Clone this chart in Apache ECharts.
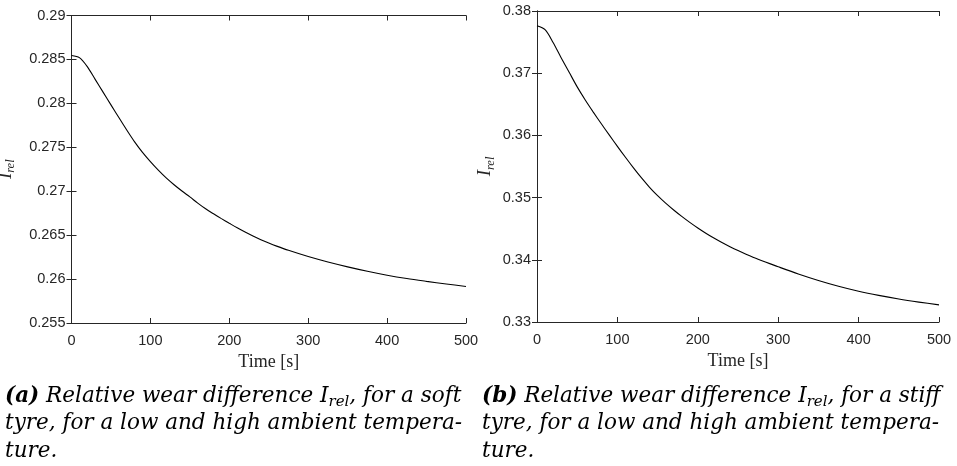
<!DOCTYPE html>
<html>
<head>
<meta charset="utf-8">
<script src="https://cdn.jsdelivr.net/npm/echarts@6/dist/echarts.min.js"></script>
<style>
  html, body { margin: 0; padding: 0; background: #fff; }
  #chart { width: 957px; height: 466px; }
</style>
</head>
<body>
<div id="chart"></div>
<script>
// ---- Data ----
const timeSoft = [0, 10, 20, 30, 40, 50, 60, 70, 80, 90, 100, 110, 120, 130, 140, 150, 160, 170, 180, 190, 200, 210, 220, 230, 240, 250, 260, 275, 300, 325, 350, 375, 400, 425, 450, 475, 500];
const irelSoft = [0.28545, 0.28520, 0.28418, 0.28273, 0.28128, 0.27983, 0.27839, 0.27697, 0.27562, 0.27442, 0.27337, 0.27240, 0.27152, 0.27074, 0.27002, 0.26935, 0.26865, 0.26800, 0.26743, 0.26688, 0.26635, 0.26583, 0.26535, 0.26490, 0.26448, 0.26410, 0.26375, 0.26327, 0.26256, 0.26194, 0.26139, 0.26089, 0.26044, 0.26006, 0.25974, 0.25944, 0.25916];

const timeStiff = [0, 10, 20, 30, 40, 50, 60, 70, 80, 90, 100, 110, 120, 130, 140, 150, 160, 170, 180, 190, 200, 210, 220, 230, 240, 250, 260, 275, 300, 325, 350, 375, 400, 425, 450, 475, 500];
const irelStiff = [0.37763, 0.37700, 0.37495, 0.37250, 0.37015, 0.36780, 0.36570, 0.36375, 0.36187, 0.36004, 0.35824, 0.35648, 0.35478, 0.35316, 0.35166, 0.35031, 0.34911, 0.34801, 0.34698, 0.34602, 0.34512, 0.34428, 0.34350, 0.34278, 0.34211, 0.34148, 0.34089, 0.34008, 0.33888, 0.33772, 0.33668, 0.33575, 0.33495, 0.33428, 0.33370, 0.33320, 0.33275];

const xTicks = { min: 0, max: 500, interval: 100 };
const ySoftTicks = { min: 0.255, max: 0.29, interval: 0.005 };
const yStiffTicks = { min: 0.33, max: 0.38, interval: 0.01 };

const xLabel = 'Time [s]';
const captionA = [
  '{b|(a)}{t| Relative wear difference }{i|I}{s|rel}{t|, for a soft}',
  '{t|tyre, for a low and high ambient tempera-}',
  '{t|ture.}'
];
const captionB = [
  '{b|(b)}{t| Relative wear difference }{i|I}{s|rel}{t|, for a stiff}',
  '{t|tyre, for a low and high ambient tempera-}',
  '{t|ture.}'
];

// ---- Styling ----
const axisColor = '#262626';
const tickFont = { fontFamily: 'Liberation Sans', fontSize: 14.5, color: axisColor };
const capFont = 'DejaVu Serif';
const capSize = 21.5;

function zip(xs, ys) { return xs.map((x, i) => [x, ys[i]]); }

function xAxes(gridIndex, nameGap) {
  return [
    {
      type: 'value', gridIndex, position: 'bottom', ...xTicks,
      name: xLabel, nameLocation: 'middle', nameGap,
      nameTextStyle: { fontFamily: 'Liberation Serif', fontSize: 18, color: axisColor },
      axisLine: { lineStyle: { color: axisColor, width: 1 } },
      axisTick: { inside: true, length: 5, lineStyle: { color: axisColor } },
      axisLabel: { ...tickFont, margin: 10 },
      splitLine: { show: false }
    },
    {
      type: 'value', gridIndex, position: 'top', ...xTicks,
      axisLine: { lineStyle: { color: axisColor, width: 1 } },
      axisTick: { inside: true, length: 5, lineStyle: { color: axisColor } },
      axisLabel: { show: false },
      splitLine: { show: false }
    }
  ];
}

function yAxes(gridIndex, ticks, nameGap) {
  return [
    {
      type: 'value', gridIndex, position: 'left', ...ticks,
      name: '{i|I}{s|rel}', nameLocation: 'middle', nameGap, nameRotate: 90,
      nameTextStyle: {
        rich: {
          i: { fontFamily: 'Liberation Serif', fontStyle: 'italic', fontSize: 19, color: axisColor, lineHeight: 24, verticalAlign: 'middle' },
          s: { fontFamily: 'Liberation Serif', fontStyle: 'italic', fontSize: 12.5, color: axisColor, lineHeight: 24, verticalAlign: 'bottom' }
        }
      },
      axisLine: { lineStyle: { color: axisColor, width: 1 } },
      axisTick: { inside: true, length: 5, lineStyle: { color: axisColor } },
      axisLabel: { ...tickFont, margin: 6, formatter: v => String(+v.toFixed(3)) },
      splitLine: { show: false }
    },
    {
      type: 'value', gridIndex, position: 'right', ...ticks,
      axisLine: { lineStyle: { color: axisColor, width: 1 } },
      axisTick: { inside: true, length: 5, lineStyle: { color: axisColor } },
      axisLabel: { show: false },
      splitLine: { show: false }
    }
  ];
}

const capRich = {
  t: { fontFamily: capFont, fontStyle: 'italic', fontSize: capSize, color: '#000', lineHeight: 28, verticalAlign: 'middle' },
  b: { fontFamily: capFont, fontStyle: 'italic', fontWeight: 'bold', fontSize: capSize, color: '#000', lineHeight: 28, verticalAlign: 'middle' },
  i: { fontFamily: capFont, fontStyle: 'italic', fontSize: capSize, color: '#000', lineHeight: 28, verticalAlign: 'middle' },
  s: { fontFamily: capFont, fontStyle: 'italic', fontSize: 15, color: '#000', lineHeight: 28, verticalAlign: 'bottom' }
};

function captionGraphics(lines, x, yStart, gap) {
  return lines.map((txt, k) => ({
    type: 'text', x, y: yStart + k * gap,
    style: { text: txt, rich: capRich, verticalAlign: 'middle', align: 'left' }
  }));
}

const chart = echarts.init(document.getElementById('chart'), null, { renderer: 'canvas' });
chart.setOption({
  animation: false,
  backgroundColor: '#fff',
  grid: [
    { left: 71.5, top: 15.5, width: 394.5, height: 307.5, containLabel: false, outerBoundsMode: 'none' },
    { left: 537, top: 11, width: 402, height: 311, containLabel: false, outerBoundsMode: 'none' }
  ],
  xAxis: [...xAxes(0, 27), ...xAxes(1, 27)],
  yAxis: [...yAxes(0, ySoftTicks, 54), ...yAxes(1, yStiffTicks, 40)],
  series: [
    {
      type: 'line', xAxisIndex: 0, yAxisIndex: 0, data: zip(timeSoft, irelSoft),
      showSymbol: false, smooth: 0.3, lineStyle: { color: '#000', width: 1.1 }
    },
    {
      type: 'line', xAxisIndex: 2, yAxisIndex: 2, data: zip(timeStiff, irelStiff),
      showSymbol: false, smooth: 0.3, lineStyle: { color: '#000', width: 1.1 }
    }
  ],
  graphic: [
    ...captionGraphics(captionA, 5, 396, 27.5),
    ...captionGraphics(captionB, 482, 396, 27.5)
  ]
});
</script>
</body>
</html>
